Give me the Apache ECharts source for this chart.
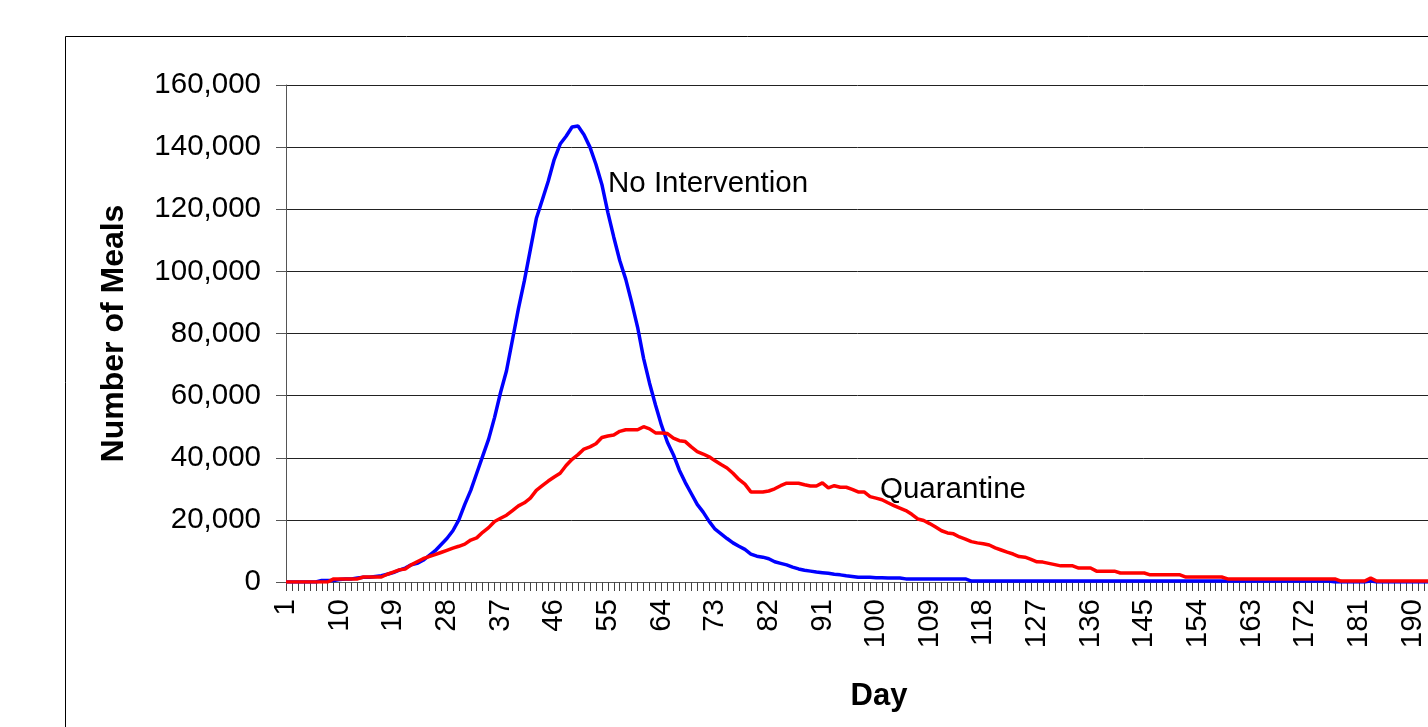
<!DOCTYPE html>
<html>
<head>
<meta charset="utf-8">
<title>Number of Meals</title>
<script src="https://cdn.jsdelivr.net/npm/echarts@6/dist/echarts.min.js"></script>
<style>
  html, body { margin: 0; padding: 0; background: #fff; }
  #main { width: 1428px; height: 727px; }
</style>
</head>
<body>
<div id="main"></div>
<script>
// days on the x axis (1..200, labels every 9th day)
const days = []
for (let i = 1; i <= 200; i++) days.push(String(i))

// No Intervention (blue)
const noIntervention = [
  0, 0, 0, 0, 0, 0, 500, 500, 500, 800,
  1000, 1000, 1300, 1500, 1500, 1800, 2000, 2500, 3000, 3800,
  4500, 5500, 6000, 7000, 8500, 10000, 12000, 14000, 16500, 20000,
  25000, 29500, 35000, 40500, 46000, 53000, 61000, 68000, 78000, 88000,
  97000, 107000, 117000, 123000, 129000, 136000, 141000, 143500, 146500, 146800,
  144000, 140000, 134500, 128000, 119000, 111000, 103500, 97500, 90000, 82000,
  72000, 64000, 57000, 50500, 45000, 41000, 36000, 32000, 28500, 25000,
  22500, 19500, 17000, 15500, 14000, 12600, 11500, 10500, 9000, 8300,
  8000, 7500, 6500, 6000, 5500, 4800, 4200, 3800, 3500, 3200,
  3000, 2800, 2500, 2300, 2000, 1800, 1500, 1500, 1500, 1400,
  1400, 1300, 1300, 1300, 1000, 1000, 1000, 1000, 1000, 1000,
  1000, 1000, 1000, 1000, 1000, 300, 300, 300, 300, 300,
  300, 300, 300, 300, 300, 300, 300, 300, 300, 300,
  300, 300, 300, 300, 300, 300, 300, 300, 300, 300,
  300, 300, 300, 300, 300, 300, 300, 300, 300, 300,
  300, 300, 300, 300, 300, 300, 300, 300, 300, 300,
  300, 300, 300, 300, 300, 300, 300, 300, 300, 300,
  300, 300, 300, 300, 300, 300, 0, 0, 0, 0,
  0, 0, 400, 0, 0, 0, 0, 0, 0, 0,
  0, 0, 0, 0, 0, 0, 0, 0, 0, 0
]

// Quarantine (red)
const quarantine = [
  0, 0, 0, 0, 0, 0, 0, 0, 1000, 1000,
  1000, 1000, 1000, 1600, 1600, 1600, 1600, 2500, 3200, 3900,
  4200, 5500, 6500, 7500, 8200, 8800, 9500, 10200, 10900, 11500,
  12200, 13500, 14200, 16000, 17500, 19500, 20500, 21500, 23000, 24500,
  25500, 27000, 29500, 31000, 32500, 33800, 35000, 37500, 39500, 41000,
  42800, 43500, 44500, 46500, 47000, 47300, 48500, 49000, 49000, 49000,
  50000, 49300, 48000, 48000, 47800, 46300, 45500, 45200, 43500, 42000,
  41200, 40300, 39000, 37800, 36700, 35000, 33000, 31500, 29000, 29000,
  29000, 29300, 30000, 31000, 31800, 31800, 31800, 31300, 30900, 30900,
  31900, 30300, 31000, 30500, 30500, 29800, 29000, 29000, 27500, 27000,
  26500, 25500, 24600, 23800, 23000, 21800, 20300, 19800, 18800, 17700,
  16500, 15800, 15500, 14500, 13800, 13000, 12600, 12300, 11900, 11000,
  10300, 9600, 9000, 8200, 8000, 7300, 6500, 6400, 6000, 5600,
  5200, 5200, 5200, 4500, 4500, 4500, 3500, 3500, 3500, 3500,
  2900, 2900, 2900, 2900, 2900, 2300, 2300, 2300, 2300, 2300,
  2300, 1600, 1600, 1600, 1600, 1600, 1600, 1600, 1000, 1000,
  1000, 1000, 1000, 1000, 1000, 1000, 1000, 1000, 1000, 1000,
  1000, 1000, 1000, 1000, 1000, 1000, 1000, 300, 300, 300,
  300, 300, 1300, 300, 300, 300, 300, 300, 300, 300,
  300, 300, 300, 300, 300, 300, 300, 300, 300, 300
]

const FONT = "'Liberation Sans', Arial, sans-serif"

const chart = echarts.init(document.getElementById('main'))
chart.setOption({
  animation: false,
  backgroundColor: '#fff',
  grid: {
    left: 286,
    top: 85,
    width: 1186,
    height: 497,
    containLabel: false,
    outerBoundsMode: 'none'
  },
  xAxis: {
    type: 'category',
    data: days,
    boundaryGap: false,
    name: 'Day',
    nameLocation: 'middle',
    nameGap: 99,
    nameTextStyle: { fontFamily: FONT, fontSize: 31, fontWeight: 'bold', color: '#000' },
    axisLine: { lineStyle: { color: '#555', width: 1 } },
    axisTick: { interval: 0, length: 9, lineStyle: { color: '#444' } },
    axisLabel: {
      interval: 8,
      rotate: 90,
      margin: 17,
      fontFamily: FONT,
      fontSize: 29.5,
      color: '#000'
    },
    splitLine: { show: false }
  },
  yAxis: {
    type: 'value',
    min: 0,
    max: 160000,
    interval: 20000,
    name: 'Number of Meals',
    nameLocation: 'middle',
    nameRotate: 90,
    nameGap: 156,
    nameTextStyle: { fontFamily: FONT, fontSize: 32, fontWeight: 'bold', color: '#000' },
    axisLine: { show: true, lineStyle: { color: '#555', width: 1 } },
    axisTick: { show: true, length: 10, lineStyle: { color: '#555' } },
    axisLabel: {
      margin: 25,
      fontFamily: FONT,
      fontSize: 29.5,
      color: '#000',
      formatter: (v) => v.toLocaleString('en-US')
    },
    splitLine: { lineStyle: { color: '#222', width: 1 } }
  },
  series: [{
    name: 'No Intervention',
    type: 'line',
    data: noIntervention,
    showSymbol: false,
    lineStyle: { color: '#0000ff', width: 3.5 },
    itemStyle: { color: '#0000ff' }
  }, {
    name: 'Quarantine',
    type: 'line',
    data: quarantine,
    showSymbol: false,
    lineStyle: { color: '#ff0000', width: 3.5 },
    itemStyle: { color: '#ff0000' }
  }],
  graphic: [{
    type: 'rect',
    silent: true,
    z: -1,
    shape: { x: 65.5, y: 36.5, width: 2000, height: 2000 },
    style: { fill: 'none', stroke: '#000', lineWidth: 1 }
  }, {
    type: 'text',
    x: 608,
    y: 184,
    style: { text: 'No Intervention', font: '29.5px ' + FONT, fill: '#000', verticalAlign: 'middle' }
  }, {
    type: 'text',
    x: 880,
    y: 490,
    style: { text: 'Quarantine', font: '29.5px ' + FONT, fill: '#000', verticalAlign: 'middle' }
  }]
})
</script>
</body>
</html>
